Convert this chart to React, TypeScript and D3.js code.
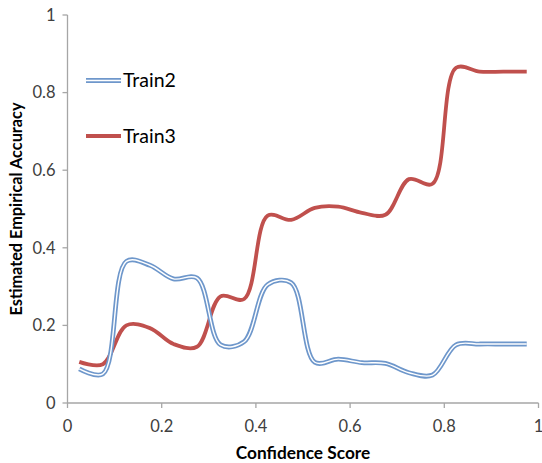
import React from 'react';
import * as d3 from 'd3';

// confidence bins (centres), one reading per bin
const confidence = [
  0.025, 0.075, 0.125, 0.175, 0.225, 0.275, 0.325, 0.375, 0.425, 0.475,
  0.525, 0.575, 0.625, 0.675, 0.725, 0.775, 0.825, 0.875, 0.925, 0.975,
];
const train2 = [
  0.088, 0.075, 0.365, 0.355, 0.32, 0.322, 0.15, 0.158, 0.305, 0.31,
  0.105, 0.113, 0.104, 0.102, 0.078, 0.072, 0.15, 0.152, 0.152, 0.152,
];
const train3 = [
  0.106, 0.1, 0.2, 0.193, 0.152, 0.145, 0.275, 0.268, 0.483, 0.472,
  0.503, 0.506, 0.49, 0.485, 0.577, 0.565, 0.864, 0.854, 0.854, 0.854,
];
const xTicks = [0, 0.2, 0.4, 0.6, 0.8, 1];
const yTicks = [0, 0.2, 0.4, 0.6, 0.8, 1];

const W = 542;
const H = 463;
const FONT = 'Lato, "Open Sans", sans-serif';
const AXIS = '#A6A6A6';
const LABEL = '#404040';
const BLUE = '#6E97CB';
const RED = '#C0504D';

const App = () => {
  const x = d3.scaleLinear().domain([0, 1]).range([67.5, 538.5]);
  const y = d3.scaleLinear().domain([0, 1]).range([403, 15]);

  const line = d3
    .line<number>()
    .x((_, i) => x(confidence[i]))
    .y((d) => y(d))
    .curve(d3.curveCatmullRom.alpha(0.5));

  const fmt = (v: number) => (v === 0 || v === 1 ? String(v) : v.toFixed(1));

  return (
    <svg
      width={W}
      height={H}
      style={{ position: 'absolute', left: 0, top: 0, background: '#fff' }}
      fontFamily={FONT}>
      {/* axes */}
      <line x1={x(0)} x2={x(0)} y1={y(0)} y2={y(1)} stroke={AXIS} strokeWidth={1.3} />
      <line x1={x(0)} x2={x(1)} y1={y(0)} y2={y(0)} stroke={AXIS} strokeWidth={1.3} />
      {yTicks.map((t) => (
        <g key={'y' + t}>
          <line x1={x(0) - 5} x2={x(0)} y1={y(t)} y2={y(t)} stroke={AXIS} strokeWidth={1.3} />
          <text
            x={x(0) - 12}
            y={y(t)}
            dy="0.35em"
            textAnchor="end"
            fontSize={16.5}
            fill={LABEL}>
            {fmt(t)}
          </text>
        </g>
      ))}
      {xTicks.map((t) => (
        <g key={'x' + t}>
          <line x1={x(t)} x2={x(t)} y1={y(0)} y2={y(0) + 5} stroke={AXIS} strokeWidth={1.3} />
          <text x={x(t)} y={y(0) + 29} textAnchor="middle" fontSize={16.5} fill={LABEL}>
            {fmt(t)}
          </text>
        </g>
      ))}

      {/* axis titles */}
      <text
        transform={`translate(22,${(y(0) + y(1)) / 2}) rotate(-90)`}
        textAnchor="middle"
        fontSize={16.3}
        fontWeight="bold"
        fill="#000">
        Estimated Empirical Accuracy
      </text>
      <text x={303} y={459} textAnchor="middle" fontSize={17.3} fontWeight="bold" fill="#000">
        Confidence Score
      </text>

      {/* series */}
      <path d={line(train3) ?? ''} fill="none" stroke={RED} strokeWidth={3.8} strokeLinejoin="round" />
      <path d={line(train2) ?? ''} fill="none" stroke={BLUE} strokeWidth={4.8} strokeLinejoin="round" />
      <path d={line(train2) ?? ''} fill="none" stroke="#fff" strokeWidth={1.4} strokeLinejoin="round" />

      {/* legend */}
      <g>
        <line x1={86} x2={121} y1={80.5} y2={80.5} stroke={BLUE} strokeWidth={4.8} />
        <line x1={86} x2={121} y1={80.5} y2={80.5} stroke="#fff" strokeWidth={1.4} />
        <text x={123} y={80.5} dy="0.35em" fontSize={19.5} fill="#000">
          Train2
        </text>
        <line x1={86} x2={121} y1={136} y2={136} stroke={RED} strokeWidth={3.8} />
        <text x={123} y={136} dy="0.35em" fontSize={19.5} fill="#000">
          Train3
        </text>
      </g>
    </svg>
  );
};

export default App;
